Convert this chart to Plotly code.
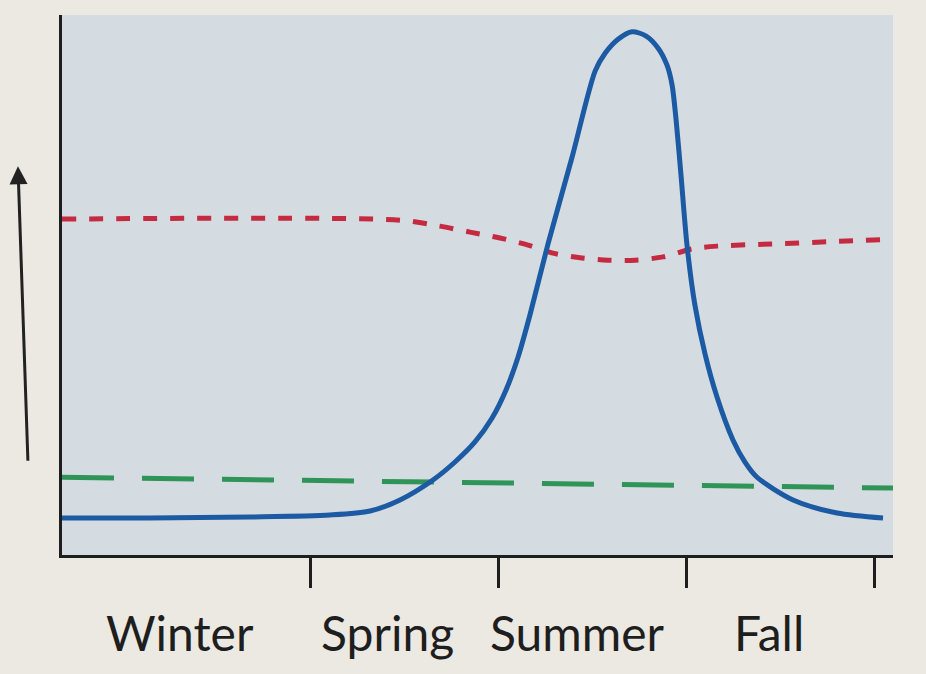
import plotly.graph_objects as go

# Seasonal timeline (x: season units, ticks at season boundaries)
season_labels = ["Winter", "Spring", "Summer", "Fall"]
season_label_x = [0.31, 1.41, 2.42, 3.44]
tick_vals = [1, 2, 3, 4]

# Blue curve (peaks in summer)
blue_x = [-0.317, 0.150, 0.681, 1.106, 1.319, 1.478, 1.653, 1.770, 1.876, 1.967, 2.041,
          2.105, 2.168, 2.264, 2.392, 2.514, 2.567, 2.636, 2.710, 2.785, 2.848, 2.896, 2.923,
          2.944, 2.970, 3.002, 3.044, 3.098, 3.161, 3.246, 3.310, 3.374, 3.565, 3.799, 4.043]
blue_y = [6.85, 6.85, 7.04, 7.41, 8.15, 10.19, 13.89, 17.22, 20.93, 25.37, 30.56,
          36.67, 44.44, 57.6, 73.7, 89.6, 92.9, 95.5, 96.9, 96.1, 93.9, 90.7, 87.0,
          80.6, 70.4, 57.4, 46.3, 37.2, 29.3, 21.3, 17.2, 14.4, 10.19, 7.78, 6.85]

# Red dotted curve (dips in summer)
red_x = [-0.317, 1.478, 1.69, 1.85, 2.009, 2.158, 2.29, 2.444, 2.583, 2.726, 2.875,
         3.029, 3.161, 3.453, 3.746, 4.096]
red_y = [62.2, 62.0, 60.9, 59.8, 58.7, 57.4, 55.9, 55.0, 54.6, 54.6, 55.2,
         56.7, 57.2, 57.6, 58.0, 58.5]

# Green dashed line (roughly constant)
green_x = [-0.317, 4.096]
green_y = [14.4, 12.4]

fig = go.Figure()
fig.add_trace(go.Scatter(x=green_x, y=green_y, mode="lines",
                         line=dict(color="#2f9457", width=5, dash="52px,28px"),
                         hoverinfo="skip"))
fig.add_trace(go.Scatter(x=red_x, y=red_y, mode="lines",
                         line=dict(color="#c42a40", width=5, dash="14px,13px", shape="spline", smoothing=0.8),
                         hoverinfo="skip"))
fig.add_trace(go.Scatter(x=blue_x, y=blue_y, mode="lines",
                         line=dict(color="#1c5aa3", width=5, shape="spline", smoothing=0.8),
                         hoverinfo="skip"))

for lab, lx in zip(season_labels, season_label_x):
    fig.add_annotation(x=lx, y=-0.1426, xref="x", yref="paper", text=lab, showarrow=False,
                       font=dict(family="Lato", size=48, color="#1e1e1e"),
                       xanchor="center", yanchor="middle")

# vertical arrow at the left
fig.add_annotation(x=-0.053, y=0.72, xref="paper", yref="paper", text="",
                   showarrow=True, ax=10, ay=296, axref="pixel", ayref="pixel",
                   arrowhead=2, arrowsize=1.2, arrowwidth=3, arrowcolor="#222222")

fig.update_layout(
    width=926, height=674,
    margin=dict(l=62, r=33, t=15, b=119),
    paper_bgcolor="#ebe9e2",
    plot_bgcolor="#d4dce1",
    showlegend=False,
    xaxis=dict(range=[-0.317, 4.096], tickvals=tick_vals, ticktext=["", "", "", ""],
               ticks="outside", ticklen=30, tickwidth=3, tickcolor="#1e1e1e",
               showline=True, linecolor="#1e1e1e", linewidth=3,
               showgrid=False, zeroline=False, fixedrange=True),
    yaxis=dict(range=[0, 100], showticklabels=False, ticks="",
               showline=True, linecolor="#1e1e1e", linewidth=3,
               showgrid=False, zeroline=False, fixedrange=True),
)

fig.write_html("out.html", config={"displayModeBar": False},
               post_script="document.body.style.margin='0';document.body.style.overflow='hidden';document.body.style.background='#ebe9e2';")
